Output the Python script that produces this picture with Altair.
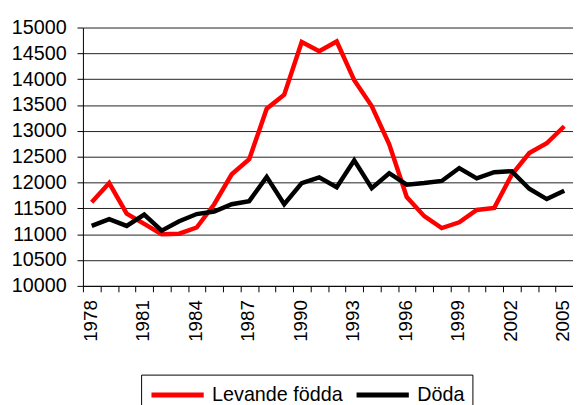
import altair as alt
import pandas as pd

years = list(range(1978, 2006))
levande = [11620, 11990, 11400, 11200, 11000, 11010, 11130, 11580, 12160, 12450,
           13430, 13700, 14720, 14540, 14730, 13980, 13480, 12740, 11720, 11350,
           11120, 11230, 11470, 11510, 12150, 12570, 12760, 13090]
doda = [11160, 11290, 11160, 11380, 11070, 11250, 11390, 11440, 11580, 11640,
        12110, 11580, 11990, 12100, 11910, 12430, 11890, 12180, 11960, 11990,
        12030, 12280, 12080, 12200, 12220, 11880, 11680, 11840]
series_names = ["Levande födda", "Döda"]
colors = ["#ff0000", "#000000"]
yticks = list(range(10000, 15001, 500))

rows = []
for yr, a, b in zip(years, levande, doda):
    rows.append({"year": yr, "serie": series_names[0], "value": a})
    rows.append({"year": yr, "serie": series_names[1], "value": b})
df = pd.DataFrame(rows)

W = 497
H = 262
step = W / len(years)
bounds = [years[0] - 0.5 + i for i in range(len(years) + 1)]
FONT = "Liberation Sans"

chart = alt.Chart(df).mark_line(strokeWidth=4.5).encode(
    x=alt.X(
        "year:Q",
        scale=alt.Scale(domain=[bounds[0], bounds[-1]], nice=False, zero=False),
        axis=alt.Axis(
            values=bounds, title=None, grid=False, labelAngle=270,
            labelAlign="right", labelBaseline="middle",
            labelExpr="(datum.value + 0.5 - 1978) % 3 == 0 ? format(datum.value + 0.5, 'd') : ''",
            labelOffset=step / 2 - 1.5, labelOverlap=False, labelFlush=False,
            tickSize=6, labelPadding=8, domainColor="black", tickColor="black",
            labelFontSize=19, labelColor="black", labelFont=FONT,
        ),
    ),
    y=alt.Y(
        "value:Q",
        scale=alt.Scale(domain=[10000, 15000], nice=False, zero=False),
        axis=alt.Axis(
            values=yticks, title=None, grid=True, gridColor="#222222",
            gridOpacity=1, tickSize=6, labelPadding=11, domainColor="black",
            tickColor="black", labelFontSize=20, labelColor="black",
            labelFont=FONT, format="d",
        ),
    ),
    color=alt.Color(
        "serie:N",
        scale=alt.Scale(domain=series_names, range=colors),
        sort=series_names,
        legend=alt.Legend(
            title=None, orient="none", legendX=59, legendY=352,
            direction="horizontal", labelFontSize=20, labelFont=FONT,
            labelColor="black", symbolType="M-1,0L4.3,0", symbolStrokeWidth=5,
            symbolSize=400, labelOffset=39, columnPadding=3, padding=8,
            strokeColor="black", fillColor="white",
        ),
    ),
).properties(
    width=W, height=H,
    padding={"left": 76, "top": 17, "right": 0, "bottom": 118},
    autosize=alt.AutoSizeParams(type="none"),
).configure_view(stroke=None)

chart.save("out.html", embed_options={"renderer": "svg", "actions": False})
